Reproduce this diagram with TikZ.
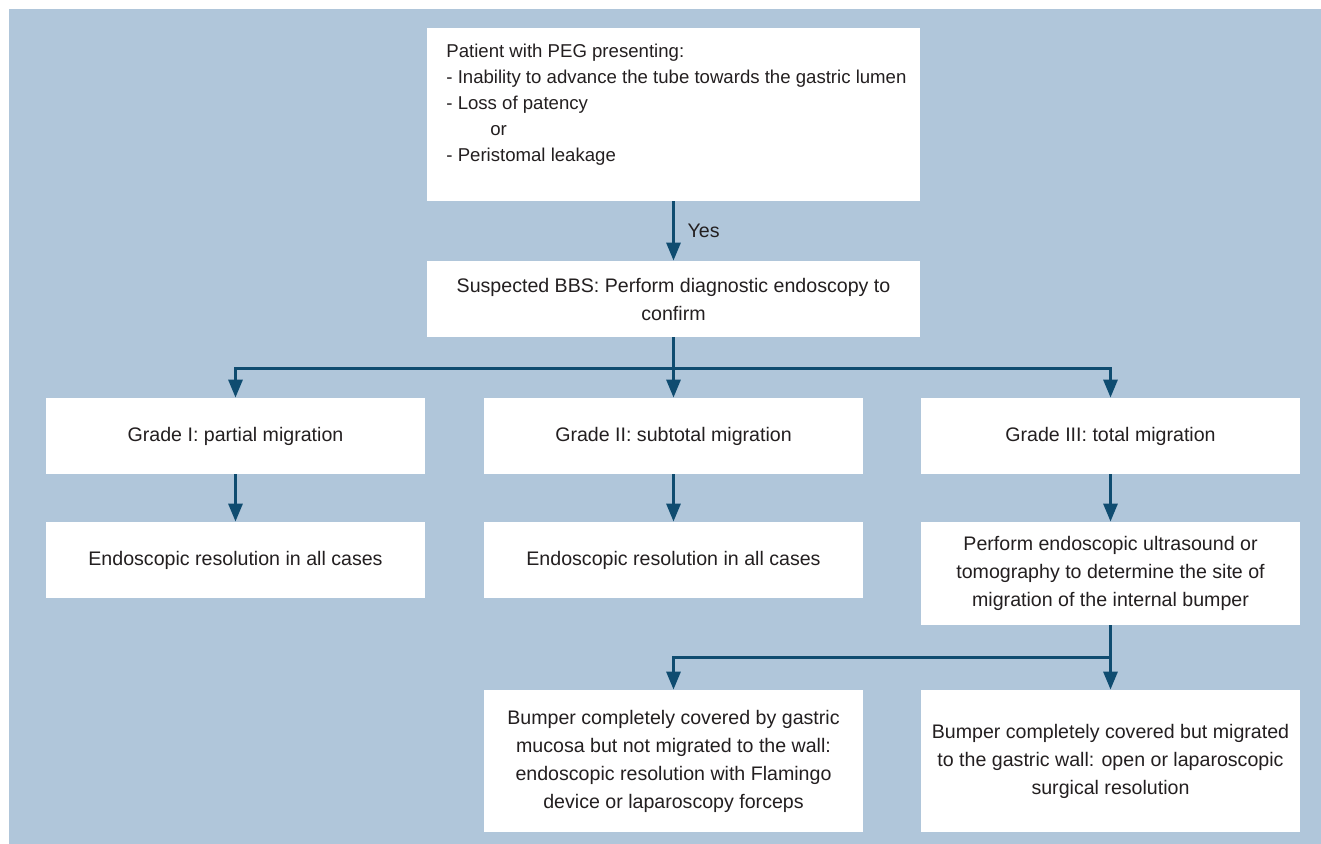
\documentclass[tikz,border=0pt]{standalone}
\usepackage{fontspec}
\setmainfont{Liberation Sans}
\usetikzlibrary{arrows.meta, positioning}
\definecolor{bgblue}{HTML}{B0C6DA}
\definecolor{arrblue}{HTML}{0F4C70}
\definecolor{txtgray}{HTML}{231F20}
\tikzset{
    wbox/.style={rectangle, fill=white, text=txtgray, inner sep=0pt, align=center, font=\fontsize{9.8}{14}\selectfont},
    widebox/.style={wbox, minimum width=246.5pt, minimum height=38pt},
    gradebox/.style={wbox, minimum width=189.5pt, minimum height=38pt},
    ln/.style={draw=arrblue, line width=1.5pt},
    arr/.style={ln, -{Triangle[length=9pt, width=7pt]}},
}

\begin{document}
\begin{tikzpicture}[x=0.5pt, y=-0.5pt]
    \useasboundingbox (0,0) rectangle (1321,844);
    \fill[bgblue] (9,9) rectangle (1321,844);

    % top of the chart
    \node[widebox, minimum height=86.5pt] (peg) at (673.5,114.5) {};
    \node[anchor=west, inner sep=0pt, align=left, text=txtgray, font=\fontsize{9.3}{13}\selectfont] (pegtext) at (446,104.5)
        {Patient with PEG presenting:\\
         - Inability to advance the tube towards the gastric lumen\\
         - Loss of patency\\
         \hspace*{22pt}or\\
         - Peristomal leakage};
    \node[widebox] (bbs) at (673.5,299) {Suspected BBS: Perform diagnostic endoscopy to\\confirm};

    % grades
    \node[gradebox] (grade1) at (235.5,436) {Grade I: partial migration};
    \node[gradebox] (grade2) at (673.5,436) {Grade II: subtotal migration};
    \node[gradebox] (grade3) at (1110.5,436) {Grade III: total migration};

    \node[gradebox] (endo1) at (235.5,560) {Endoscopic resolution in all cases};
    \node[gradebox] (endo2) at (673.5,560) {Endoscopic resolution in all cases};
    \node[gradebox, minimum height=51.5pt] (eus) at (1110.5,573.5)
        {Perform endoscopic ultrasound or\\tomography to determine the site of\\migration of the internal bumper};

    % bumper covered
    \node[gradebox, minimum height=71pt] (flamingo) at (673.5,761)
        {Bumper completely covered by gastric\\mucosa but not migrated to the wall:\\endoscopic resolution with Flamingo\\device or laparoscopy forceps};
    \node[gradebox, minimum height=71pt] (surgery) at (1110.5,761)
        {Bumper completely covered but migrated\\to the gastric wall: open or laparoscopic\\surgical resolution};

    \coordinate (split1) at (673.5,368);
    \coordinate (split2) at (1110.5,657);

    \draw[arr] (peg) -- node[right, xshift=3pt, font=\fontsize{9.8}{14}\selectfont, text=txtgray] (yes) {Yes} (bbs);
    \draw[arr] (bbs) -- (split1) -| (grade1);
    \draw[arr] (split1) -| (grade3);
    \draw[arr] (bbs) -- (grade2);
    \draw[arr] (grade1) -- (endo1);
    \draw[arr] (grade2) -- (endo2);
    \draw[arr] (grade3) -- (eus);
    \draw[arr] (eus) -- (split2) -| (flamingo);
    \draw[arr] (eus) -- (surgery);
\end{tikzpicture}
\end{document}
